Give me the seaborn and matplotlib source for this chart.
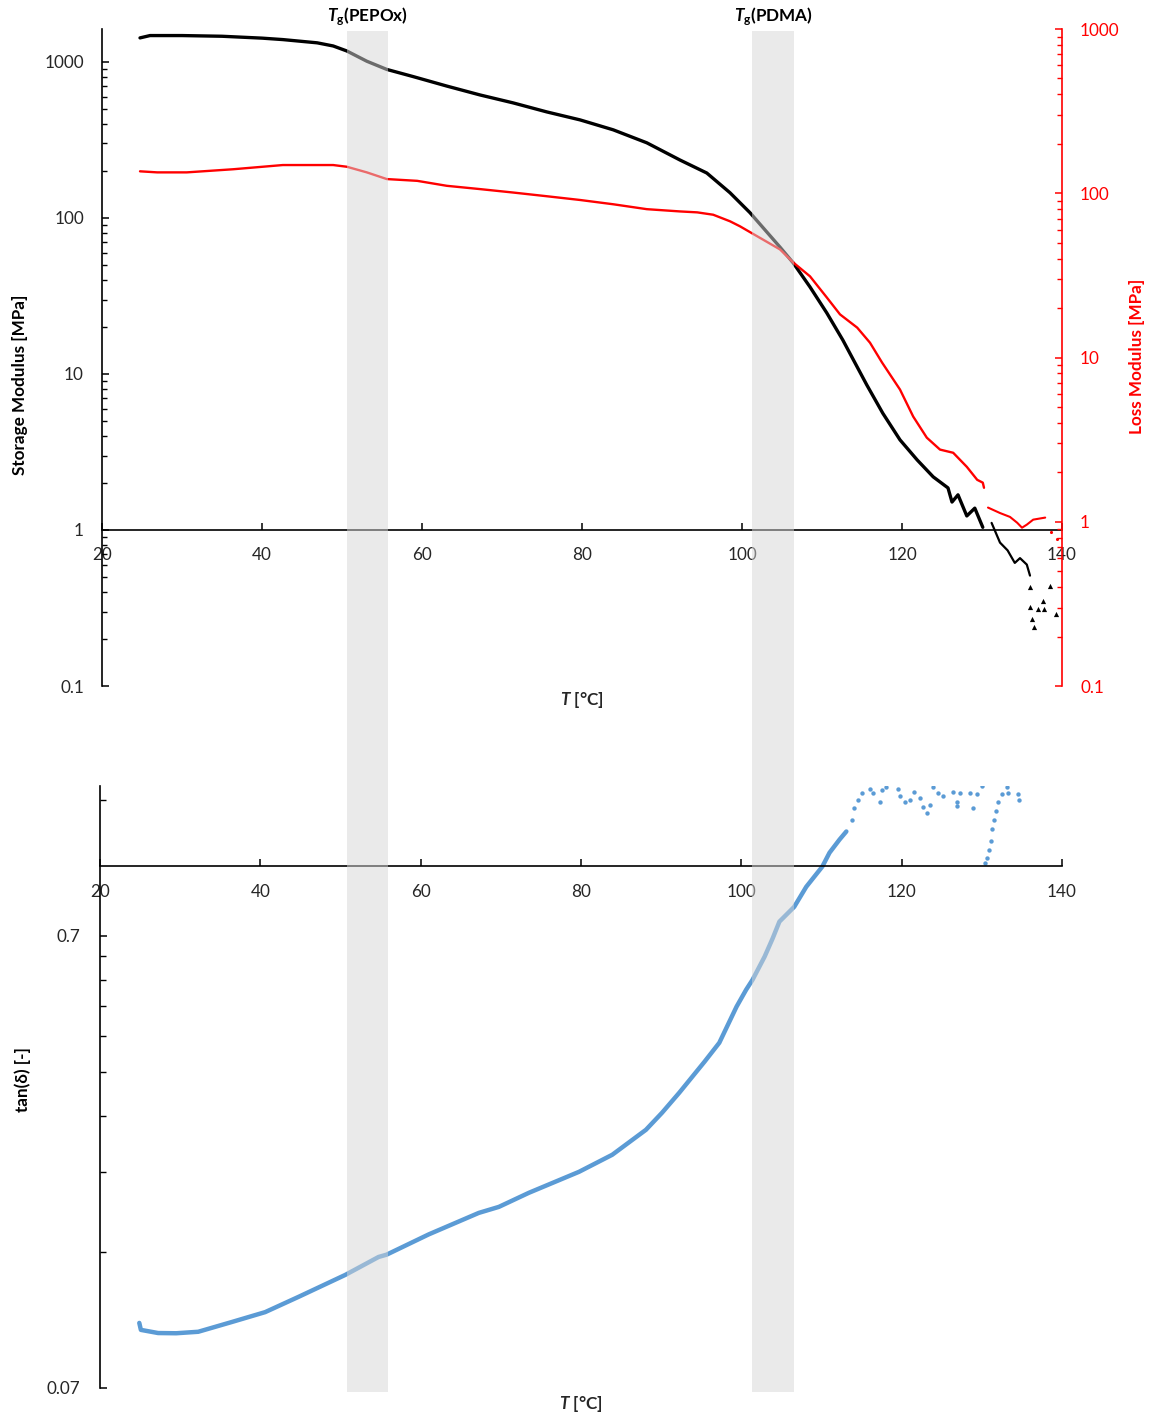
import numpy as np
import matplotlib
matplotlib.use("Agg")
import matplotlib.pyplot as plt
import matplotlib.ticker as mticker
from matplotlib.patches import Rectangle
from matplotlib.transforms import blended_transform_factory
import seaborn as sns

# ---- storage modulus E' [MPa] vs temperature [°C] ----
storage_T = [24.75, 26.0, 30.0, 35.0, 40.0, 42.6, 46.9, 48.9, 50.6, 53.1, 55.6, 58.9,
             63.1, 67.25, 71.4, 75.6, 79.75, 83.9, 88.1, 92.25, 95.6, 98.5, 101.0,
             104.75, 106.4, 108.5, 110.6, 112.6, 115.6, 117.6, 119.75, 121.9, 123.9,
             125.75, 126.25, 127.0, 128.1, 129.1, 130.1]
storage_E = [1425, 1475, 1475, 1460, 1420, 1390, 1325, 1265, 1175, 1010, 895, 805,
             700, 614, 546, 478, 425, 367, 303, 235, 194, 145, 108,
             65, 51.5, 36.1, 24.6, 16.5, 8.5, 5.6, 3.78, 2.81, 2.19,
             1.86, 1.51, 1.68, 1.23, 1.38, 1.04]
storage_T2 = [131.2, 132.25, 133.2, 134.1, 134.75, 135.6, 136.0]
storage_E2 = [1.11, 0.83, 0.74, 0.615, 0.66, 0.60, 0.51]
storage_tail_T = [136.0, 136.0, 136.25, 136.5, 137.0, 137.6, 137.75, 138.5, 139.25]
storage_tail_E = [0.43, 0.32, 0.27, 0.24, 0.31, 0.35, 0.31, 0.44, 0.29]

# ---- loss modulus E'' [MPa] ----
loss_T = [24.75, 26.9, 30.6, 36.4, 42.6, 48.9, 50.6, 53.1, 55.6, 59.4, 63.1, 67.25,
          71.4, 75.6, 79.75, 83.9, 88.1, 92.25, 94.4, 96.4, 98.5, 99.75, 101.0, 104.75,
          106.4, 108.5, 110.6, 112.25, 114.4, 116.0, 117.5, 119.75, 121.4, 123.1,
          124.75, 126.4, 128.1, 129.4, 130.1, 130.25]
loss_E = [136, 134, 134, 140, 148.5, 148.5, 145, 134, 122, 119, 111, 106,
          101, 95.9, 91, 85.7, 80, 77.5, 76.5, 74, 67.5, 62.9, 58, 45.5,
          37.9, 31.2, 23.2, 18.3, 15.2, 12.3, 9.33, 6.38, 4.37, 3.25,
          2.75, 2.63, 2.16, 1.80, 1.73, 1.61]
loss_T2 = [130.75, 132.25, 133.5, 134.4, 135.0, 135.6, 136.4, 137.9]
loss_E2 = [1.22, 1.13, 1.07, 0.986, 0.92, 0.96, 1.03, 1.06]
loss_tail_T = [138.6, 139.4]
loss_tail_E = [0.87, 0.78]

# ---- loss factor tan(delta) ----
tan_T = [24.9, 25.1, 27.25, 29.5, 32.25, 36.4, 40.6, 44.75, 50.6, 54.75, 55.75, 61.0,
         67.25, 69.75, 73.5, 79.75, 83.9, 88.1, 90.1, 92.25, 95.4, 97.25, 99.4,
         100.6, 101.4, 102.9, 103.9, 104.75, 106.6, 108.1, 110.1, 111.0, 112.25, 113.1]
tan_d = [0.0975, 0.0941, 0.0926, 0.0925, 0.0932, 0.0979, 0.103, 0.1113, 0.1245,
         0.1364, 0.138, 0.153, 0.1707, 0.176, 0.1891, 0.2104, 0.2295, 0.2606, 0.2841,
         0.3146, 0.3684, 0.4058, 0.4876, 0.5317, 0.5594, 0.629, 0.69, 0.752, 0.811,
         0.898, 0.995, 1.068, 1.142, 1.19]
tan_pts_T = [113.75, 114.0, 114.5, 115.1, 116.0, 116.4, 117.25, 117.6, 118.1, 119.5,
             119.75, 120.4, 121.0, 121.6, 122.25, 122.6, 123.1, 123.5, 123.9, 124.5,
             125.1, 126.4, 126.9, 126.9, 127.25, 128.5, 128.9, 129.4, 130.0,
             130.4, 130.6, 130.9, 131.1, 131.25, 131.5, 131.75, 132.0, 132.5, 133.1,
             133.25, 134.5, 134.6]
tan_pts = [1.264, 1.344, 1.40, 1.45, 1.48, 1.45, 1.386, 1.47, 1.495, 1.48,
           1.425, 1.386, 1.40, 1.458, 1.413, 1.35, 1.31, 1.36, 1.49, 1.45,
           1.425, 1.458, 1.386, 1.356, 1.45, 1.45, 1.344, 1.44, 1.50,
           1.015, 1.041, 1.085, 1.131, 1.204, 1.264, 1.319, 1.38, 1.44, 1.49,
           1.45, 1.44, 1.40]

# glass transition ranges [°C]
tg_ranges = [(50.6, 55.75), (101.25, 106.5)]
tg_names = ["PEPOx", "PDMA"]

temp_ticks = [20, 40, 60, 80, 100, 120, 140]

sns.set_style("ticks")
plt.rcParams["font.family"] = ["Lato", "DejaVu Sans"]
plt.rcParams["mathtext.fontset"] = "custom"
plt.rcParams["mathtext.it"] = "Lato:italic:bold"
plt.rcParams["mathtext.rm"] = "Lato:bold"
plt.rcParams["mathtext.bf"] = "Lato:bold"

TXT = "#262626"
RED = "#FF0000"
BLUE = "#5B9BD5"
W, H = 1157, 1421
FS = 12.3

fig = plt.figure(figsize=(W / 100, H / 100), dpi=100)

# ---------------- upper panel: moduli ----------------
ax1 = fig.add_axes([102 / W, 1 - 686 / H, 960 / W, 657 / H])
ax1.set_yscale("log")
ax1.set_xlim(20, 140)
ax1.set_ylim(0.1, 1625)

line_kw = dict(sort=False, estimator=None, legend=False)
sns.lineplot(x=storage_T, y=storage_E, ax=ax1, color="black", linewidth=2.4, **line_kw)
sns.lineplot(x=storage_T2, y=storage_E2, ax=ax1, color="black", linewidth=1.6, **line_kw)
sns.scatterplot(x=storage_tail_T, y=storage_tail_E, ax=ax1, color="black", marker="^",
                s=14, linewidth=0, legend=False)

ax2 = ax1.twinx()
ax2.set_yscale("log")
ax2.set_ylim(0.1, 1000)
sns.lineplot(x=loss_T, y=loss_E, ax=ax2, color=RED, linewidth=1.7, **line_kw)
sns.lineplot(x=loss_T2, y=loss_E2, ax=ax2, color=RED, linewidth=1.5, **line_kw)
sns.scatterplot(x=loss_tail_T, y=loss_tail_E, ax=ax2, color=RED, marker="o",
                s=5, linewidth=0, legend=False)
ax2.set_xlim(20, 140)

log_fmt = mticker.FuncFormatter(lambda v, p: f"{v:g}")
for ax in (ax1, ax2):
    ax.yaxis.set_major_locator(mticker.LogLocator(base=10, numticks=10))
    ax.yaxis.set_minor_locator(mticker.LogLocator(base=10, subs=np.arange(2, 10), numticks=20))
    ax.yaxis.set_minor_formatter(mticker.NullFormatter())
    ax.yaxis.set_major_formatter(log_fmt)
    ax.set_ylabel("")
    ax.set_xlabel("")
    ax.patch.set_visible(False)

ax1.spines["top"].set_visible(False)
ax1.spines["right"].set_visible(False)
ax1.spines["bottom"].set_position(("data", 1))
for s in ("left", "bottom"):
    ax1.spines[s].set_color("black")
    ax1.spines[s].set_linewidth(1.2)
ax1.set_xticks(temp_ticks)
ax1.xaxis.set_minor_locator(mticker.NullLocator())
ax1.tick_params(axis="x", direction="in", length=5, width=1.1, pad=12,
                labelsize=FS, labelcolor=TXT, color="black")
ax1.tick_params(axis="y", which="major", direction="in", length=5, width=1.1, pad=13,
                labelsize=FS, labelcolor=TXT, color="black")
ax1.tick_params(axis="y", which="minor", direction="in", length=3.5, width=1.0, color="black")

for s in ("left", "top", "bottom"):
    ax2.spines[s].set_visible(False)
ax2.spines["right"].set_color(RED)
ax2.spines["right"].set_linewidth(1.2)
ax2.tick_params(axis="y", which="major", direction="in", length=5, width=1.1, pad=13,
                labelsize=FS, labelcolor=RED, color=RED)
ax2.tick_params(axis="y", which="minor", direction="in", length=3.5, width=1.0, color=RED)
ax2.tick_params(axis="x", which="both", bottom=False, top=False, labelbottom=False)

ax1.set_xlabel("$T$ [°C]", fontsize=FS, fontweight="bold", color=TXT)
ax1.xaxis.set_label_coords(0.5, -0.006)
ax1.set_ylabel("Storage Modulus [MPa]", fontsize=FS, fontweight="bold", color="black")
ax1.yaxis.set_label_coords(-0.077, 0.458)
ax2.set_ylabel("Loss Modulus [MPa]", fontsize=FS, fontweight="bold", color=RED)
ax2.yaxis.set_label_coords(1.070, 0.501)

# ---------------- lower panel: tan(delta) ----------------
ax3 = fig.add_axes([100 / W, 1 - 1388 / H, 962 / W, 602 / H])
ax3.set_yscale("log")
ax3.set_xlim(20, 140)
ax3.set_ylim(0.07, 1.5)
sns.lineplot(x=tan_T, y=tan_d, ax=ax3, color=BLUE, linewidth=3.2, **line_kw)
sns.scatterplot(x=tan_pts_T, y=tan_pts, ax=ax3, color=BLUE, marker="o", s=10,
                linewidth=0, legend=False)

ax3.spines["top"].set_visible(False)
ax3.spines["right"].set_visible(False)
ax3.spines["bottom"].set_position(("data", 1.0))
for s in ("left", "bottom"):
    ax3.spines[s].set_color("black")
    ax3.spines[s].set_linewidth(1.2)
ax3.set_xticks(temp_ticks)
ax3.xaxis.set_minor_locator(mticker.NullLocator())
ax3.yaxis.set_major_locator(mticker.FixedLocator([0.07, 0.7]))
ax3.yaxis.set_minor_locator(mticker.FixedLocator([0.07 * k for k in range(2, 10)] + [1.4]))
ax3.yaxis.set_major_formatter(log_fmt)
ax3.yaxis.set_minor_formatter(mticker.NullFormatter())
ax3.tick_params(axis="x", direction="in", length=5, width=1.1, pad=13,
                labelsize=FS, labelcolor=TXT, color="black")
ax3.tick_params(axis="y", which="major", direction="in", length=5, width=1.1, pad=14,
                labelsize=FS, labelcolor=TXT, color="black")
ax3.tick_params(axis="y", which="minor", direction="in", length=4, width=1.0, color="black")
ax3.set_xlabel("$T$ [°C]", fontsize=FS, fontweight="bold", color=TXT)
ax3.xaxis.set_label_coords(0.5, -0.010)
ax3.set_ylabel("tan(δ) [-]", fontsize=FS, fontweight="bold", color="black")
ax3.yaxis.set_label_coords(-0.072, 0.512)
ax3.patch.set_visible(False)

# ---------------- glass transition bands across both panels ----------------
band_tf = blended_transform_factory(ax1.transData, fig.transFigure)
y0, y1 = 1 - 1392 / H, 1 - 31 / H
for (lo, hi), name in zip(tg_ranges, tg_names):
    fig.patches.append(Rectangle((lo, y0), hi - lo, y1 - y0, transform=band_tf,
                                 facecolor="#D6D6D6", alpha=0.5, edgecolor="none",
                                 zorder=10))
    fig.text((lo + hi) / 2, 1 - 17 / H, r"$T_\mathrm{g}$(" + name + ")",
             transform=band_tf, ha="center", va="center", fontsize=FS,
             fontweight="bold", color="black")

fig.savefig("out.png", dpi=100, facecolor="white")
